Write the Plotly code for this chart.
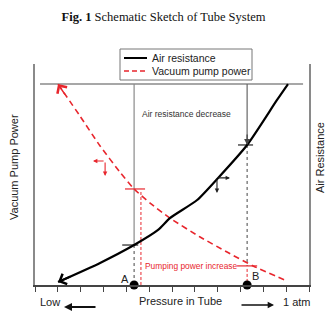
import plotly.graph_objects as go

# ---------------- data (schematic values) ----------------
# x: pressure in tube (tick index 0..12, low -> 1 atm); y: relative level (0..11)
air_x = [1.01, 2.85, 4.34, 5.39, 5.91, 7.10, 8.02, 9.29, 10.60, 11.08]
air_y = [0.15, 1.10, 1.99, 2.74, 3.33, 4.23, 5.33, 6.97, 9.21, 10.00]
pump_x = [1.01, 1.97, 2.85, 3.72, 4.34, 5.04, 5.91, 7.23, 8.41, 9.55, 11.04]
pump_y = [10.00, 8.41, 6.92, 5.62, 4.78, 4.08, 3.33, 2.39, 1.64, 0.95, 0.20]

point_names = ["A", "B"]
point_x = [4.34, 9.29]          # operating pressures A and B
air_at_point = [1.99, 6.97]     # air resistance at A and B
pump_cross_x = [4.38, 9.29]     # pump-power marks
pump_drop_x = [4.64, 9.29]
pump_at_point = [4.78, 0.95]    # pump power at A and B
top_level = 10.0
top_line_x = [0.22, 11.74]
tick_vals = list(range(13))

# shift marks (corner arrows): corner, horizontal tip, vertical tip
red_shift = {"x": 3.07, "y": 6.17, "hx": 2.54, "vy": 5.43}
black_shift = {"x": 7.97, "y": 5.33, "hx": 8.54, "vy": 4.58}

# ---------------- layout constants ----------------
W, H = 327, 314
L, R, T, B = 35, 18, 64, 29
PW, PH = W - L - R, H - T - B
RED = "#e8262d"
GRAY = "#8a8a8a"
TXT = "#222222"
SANS = "Liberation Sans, Arial, sans-serif"


def px(xp):
    return (xp - L) / PW


def py(yp):
    return (H - B - yp) / PH


fig = go.Figure()

# top reference line
fig.add_trace(go.Scatter(x=top_line_x, y=[top_level, top_level], mode="lines",
                         line=dict(color=GRAY, width=1.5), showlegend=False, hoverinfo="skip"))

for i in range(2):
    # gray vertical line from top line down to the air resistance curve
    fig.add_trace(go.Scatter(x=[point_x[i], point_x[i]], y=[top_level, air_at_point[i]],
                             mode="lines", line=dict(color=GRAY if i == 0 else "#666", width=1.2),
                             showlegend=False, hoverinfo="skip"))
    # black dotted drop line
    end_y = 0 if i == 0 else pump_at_point[i]
    fig.add_trace(go.Scatter(x=[point_x[i], point_x[i]], y=[air_at_point[i], end_y],
                             mode="lines", line=dict(color="#444", width=1, dash="dot"),
                             showlegend=False, hoverinfo="skip"))
    # black crosshair
    hw_l, hw_r = (0.52, 0.18) if i == 0 else (0.4, 0.26)
    fig.add_trace(go.Scatter(x=[point_x[i] - hw_l, point_x[i] + hw_r],
                             y=[air_at_point[i], air_at_point[i]], mode="lines",
                             line=dict(color="#222", width=1.2), showlegend=False, hoverinfo="skip"))
    # red crosshair
    fig.add_trace(go.Scatter(x=[pump_cross_x[i] - 0.44, pump_cross_x[i] + 0.44],
                             y=[pump_at_point[i], pump_at_point[i]], mode="lines",
                             line=dict(color=RED, width=1.2), showlegend=False, hoverinfo="skip"))
    # red dashed drop line
    fig.add_trace(go.Scatter(x=[pump_drop_x[i], pump_drop_x[i]], y=[pump_at_point[i] - 0.15, 0],
                             mode="lines", line=dict(color=RED, width=1, dash="3px,2px"),
                             showlegend=False, hoverinfo="skip"))

# curves
fig.add_trace(go.Scatter(x=pump_x, y=pump_y, mode="lines", name="Vacuum pump power",
                         line=dict(color=RED, width=1.6, dash="6px,4px", shape="spline", smoothing=0.6),
                         showlegend=False))
fig.add_trace(go.Scatter(x=air_x, y=air_y, mode="lines", name="Air resistance",
                         line=dict(color="black", width=2.2, shape="spline", smoothing=0.6),
                         showlegend=False))

# points A and B
fig.add_trace(go.Scatter(x=point_x, y=[0, 0], mode="markers",
                         marker=dict(color="black", size=9), cliponaxis=False,
                         showlegend=False, hoverinfo="skip"))

ann = []


def label(x, y, text, size=11, color=TXT, xanchor="center", xref="paper", yref="paper", **kw):
    ann.append(dict(x=x, y=y, xref=xref, yref=yref, text=text, showarrow=False,
                    xanchor=xanchor, yanchor="middle",
                    font=dict(family=SANS, size=size, color=color), **kw))


# arrowheads on curve ends
ann.append(dict(x=air_x[0], y=air_y[0], ax=air_x[0] + 0.6, ay=air_y[0] + 0.3,
                xref="x", yref="y", axref="x", ayref="y", text="", showarrow=True,
                arrowhead=4, arrowsize=1.1, arrowwidth=2, arrowcolor="black"))
ann.append(dict(x=pump_x[0], y=pump_y[0], ax=pump_x[0] + 0.35, ay=pump_y[0] - 0.6,
                xref="x", yref="y", axref="x", ayref="y", text="", showarrow=True,
                arrowhead=4, arrowsize=1.4, arrowwidth=1.6, arrowcolor=RED))
# arrow on gray line at B
ann.append(dict(x=point_x[1], y=air_at_point[1], ax=point_x[1], ay=air_at_point[1] + 0.6,
                xref="x", yref="y", axref="x", ayref="y", text="", showarrow=True,
                arrowhead=2, arrowsize=1, arrowwidth=1.2, arrowcolor="#444"))
# shift marks
for s, col in ((red_shift, RED), (black_shift, "#222")):
    ann.append(dict(x=s["hx"], y=s["y"], ax=s["x"], ay=s["y"], xref="x", yref="y",
                    axref="x", ayref="y", text="", showarrow=True, arrowhead=2,
                    arrowsize=0.8, arrowwidth=1.1, arrowcolor=col))
    ann.append(dict(x=s["x"], y=s["vy"], ax=s["x"], ay=s["y"], xref="x", yref="y",
                    axref="x", ayref="y", text="", showarrow=True, arrowhead=2,
                    arrowsize=0.8, arrowwidth=1.1, arrowcolor=col))

# point labels
label(point_x[0], 0, point_names[0], xref="x", yref="y", xshift=-9, yshift=6)
label(point_x[1], 0, point_names[1], xref="x", yref="y", xshift=8, yshift=9)

# in-plot texts
label(px(186), py(114), "Air resistance decrease", size=8.5, color="#333")
label(px(143), pump_at_point[1], "Pumping power increase", size=8.4, color=RED,
      xanchor="left", yref="y")

# axis titles
label(px(14), py(167), "Vacuum Pump Power", size=11, textangle=-90)
label(px(320), py(158), "Air Resistance", size=11, textangle=-90)

# bottom labels and arrows
label(px(50), py(302), "Low")
label(px(180), py(300.5), "Pressure in Tube")
label(px(297), py(301.5), "1 atm")
ann.append(dict(x=px(64), y=py(307), ax=33, ay=0, xref="paper", yref="paper",
                axref="pixel", ayref="pixel", text="", showarrow=True, arrowhead=2,
                arrowsize=0.8, arrowwidth=2, arrowcolor="#111"))
ann.append(dict(x=px(274), y=py(305), ax=-34, ay=0, xref="paper", yref="paper",
                axref="pixel", ayref="pixel", text="", showarrow=True, arrowhead=2,
                arrowsize=0.9, arrowwidth=1.4, arrowcolor="#111"))

# legend (drawn)
label(px(150), py(58), "Air resistance", size=10.5, xanchor="left")
label(px(150), py(71), "Vacuum pump power", size=10.5, xanchor="left")

shapes = [
    dict(type="rect", xref="paper", yref="paper", x0=px(120), x1=px(252), y0=py(80), y1=py(49),
         line=dict(color="#777", width=1), fillcolor="white", layer="above"),
    dict(type="line", xref="paper", yref="paper", x0=px(124), x1=px(147), y0=py(58), y1=py(58),
         line=dict(color="black", width=2), layer="above"),
    dict(type="line", xref="paper", yref="paper", x0=px(124), x1=px(147), y0=py(71), y1=py(71),
         line=dict(color=RED, width=1.6, dash="5px,3px"), layer="above"),
]

fig.update_layout(
    width=W, height=H,
    margin=dict(l=L, r=R, t=T, b=B),
    paper_bgcolor="white", plot_bgcolor="white",
    title=dict(text="<b>Fig. 1</b> Schematic Sketch of Tube System", x=0.5, xanchor="center",
               y=1 - 17 / H, yanchor="middle", yref="container",
               font=dict(family="Liberation Serif, Times New Roman, serif", size=12.5, color="#111")),
    xaxis=dict(range=[0, 12], tickvals=tick_vals, showticklabels=False, ticks="outside",
               ticklen=5, tickcolor="#444", tickwidth=1, showline=True, linecolor="#444",
               linewidth=1.5, showgrid=False, zeroline=False, fixedrange=True),
    yaxis=dict(range=[0, 11], showticklabels=False, ticks="", showline=True, linecolor=GRAY,
               linewidth=1.5, mirror=True, showgrid=False, zeroline=False, fixedrange=True),
    annotations=ann, shapes=shapes, showlegend=False,
)

fig.write_html("out.html")
